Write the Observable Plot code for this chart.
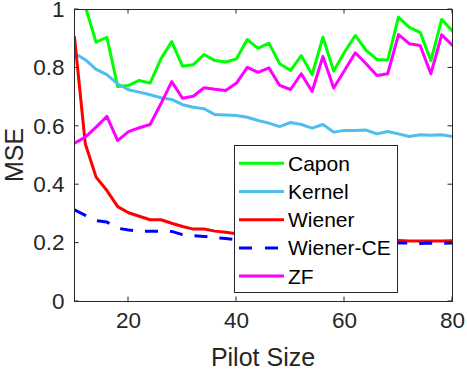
<!DOCTYPE html>
<html><head><meta charset="utf-8">
<script src="https://cdn.jsdelivr.net/npm/d3@7"></script>
<script src="https://cdn.jsdelivr.net/npm/@observablehq/plot@0.6"></script>
<style>body{margin:0;background:#fff} #chart{width:467px;height:371px} #chart svg{overflow:visible}</style>
</head><body><div id="chart"></div>
<script>
const pilotSize = [10,12,14,16,18,20,22,24,26,28,30,32,34,36,38,40,42,44,46,48,50,52,54,56,58,60,62,64,66,68,70,72,74,76,78,80];
const capon    = [1.15,1.01,0.888,0.905,0.736,0.740,0.757,0.748,0.831,0.890,0.806,0.811,0.846,0.825,0.820,0.831,0.897,0.867,0.885,0.814,0.791,0.842,0.777,0.905,0.789,0.854,0.911,0.860,0.829,0.827,0.974,0.939,0.922,0.825,0.966,0.926];
const kernel   = [0.850,0.828,0.795,0.777,0.745,0.725,0.717,0.708,0.698,0.692,0.674,0.665,0.660,0.640,0.639,0.637,0.631,0.620,0.611,0.599,0.613,0.606,0.594,0.606,0.580,0.586,0.586,0.587,0.574,0.582,0.574,0.565,0.571,0.569,0.571,0.565];
const wiener   = [0.905,0.54,0.426,0.380,0.325,0.304,0.292,0.280,0.280,0.268,0.257,0.248,0.248,0.241,0.237,0.232,0.229,0.226,0.224,0.221,0.220,0.218,0.217,0.215,0.215,0.213,0.212,0.211,0.211,0.210,0.209,0.207,0.207,0.207,0.207,0.208];
const wienerCE = [0.314,0.295,0.277,0.272,0.251,0.245,0.241,0.241,0.241,0.240,0.229,0.225,0.223,0.218,0.216,0.211,0.210,0.209,0.208,0.207,0.206,0.205,0.205,0.204,0.203,0.203,0.202,0.202,0.201,0.201,0.200,0.200,0.199,0.200,0.199,0.200];
const zf       = [0.542,0.563,0.597,0.634,0.551,0.582,0.595,0.606,0.677,0.753,0.696,0.703,0.732,0.727,0.723,0.748,0.802,0.785,0.800,0.740,0.726,0.780,0.719,0.839,0.731,0.791,0.852,0.814,0.774,0.780,0.914,0.883,0.877,0.780,0.913,0.877];

const seriesNames  = ["Capon","Kernel","Wiener","Wiener-CE","ZF"];
const seriesValues = [capon, kernel, wiener, wienerCE, zf];
const seriesColors = ["#00ff00","#4dbeee","#ff0000","#0000ff","#ff00ff"];
const seriesDash   = [null, null, null, "13,12", null];

const xTicks = [20,40,60,80];
const xTickLabels = ["20","40","60","80"];
const yTicks = [0,0.2,0.4,0.6,0.8,1];
const yTickLabels = ["0","0.2","0.4","0.6","0.8","1"];
const xLabel = "Pilot Size";
const yLabel = "MSE";

const rows = [];
seriesNames.forEach((name, i) => pilotSize.forEach((x, j) => rows.push({series: name, x, y: seriesValues[i][j]})));

const FONT = "'Liberation Sans', Arial, Helvetica, sans-serif";
const AX = "#262626";

const lineMarks = seriesNames.map((name, i) => Plot.line(rows.filter(r => r.series === name), {
  x: "x", y: "y", stroke: seriesColors[i], strokeWidth: 3, clip: true,
  strokeDasharray: seriesDash[i] || undefined,
  strokeLinecap: seriesDash[i] ? "butt" : "round",
  strokeLinejoin: "round"
}));

const plot = Plot.plot({
  width: 467, height: 371,
  marginLeft: 74, marginRight: 15, marginTop: 9, marginBottom: 70,
  style: {fontFamily: FONT, fontSize: "22.5px", color: AX, background: "white", overflow: "visible"},
  x: {domain: [10, 80], label: null},
  y: {domain: [0, 1], label: null},
  marks: [
    Plot.axisX(xTicks, {anchor: "bottom", tickSize: 0, tickPadding: 11, label: null, tickFormat: d => xTickLabels[xTicks.indexOf(d)]}),
    Plot.axisY(yTicks, {anchor: "left", tickSize: 0, tickPadding: 10, label: null, tickFormat: d => yTickLabels[yTicks.indexOf(d)]}),
    ...lineMarks,
    Plot.frame({stroke: AX, strokeWidth: 1})
  ]
});
document.getElementById("chart").appendChild(plot);

const sx = plot.scale("x"), sy = plot.scale("y");
const svg = d3.select(plot);
const x0 = sx.apply(10), x1 = sx.apply(80), y0 = sy.apply(0), y1 = sy.apply(1);
const T = 4.5;
const g = svg.append("g").attr("stroke", AX).attr("stroke-width", 1);
xTicks.forEach(v => {
  const px = sx.apply(v);
  g.append("line").attr("x1", px).attr("x2", px).attr("y1", y0).attr("y2", y0 - T);
  g.append("line").attr("x1", px).attr("x2", px).attr("y1", y1).attr("y2", y1 + T);
});
yTicks.forEach(v => {
  const py = sy.apply(v);
  g.append("line").attr("x1", x0).attr("x2", x0 + T).attr("y1", py).attr("y2", py);
  g.append("line").attr("x1", x1).attr("x2", x1 - T).attr("y1", py).attr("y2", py);
});

// axis labels
svg.append("text").attr("x", (x0 + x1) / 2).attr("y", 366).attr("text-anchor", "middle")
  .attr("font-family", FONT).attr("font-size", 25).attr("fill", AX).text(xLabel);
svg.append("text").attr("transform", `translate(23,${(y0 + y1) / 2}) rotate(-90)`).attr("text-anchor", "middle")
  .attr("font-family", FONT).attr("font-size", 25).attr("fill", AX).text(yLabel);

// legend
const L = {x: 234.5, y: 145.5, w: 163, h: 147};
const leg = svg.append("g");
leg.append("rect").attr("x", L.x).attr("y", L.y).attr("width", L.w).attr("height", L.h)
  .attr("fill", "white").attr("stroke", AX).attr("stroke-width", 1);
seriesNames.forEach((name, i) => {
  const cy = 163.3 + i * 28.2;
  leg.append("line").attr("x1", 239).attr("x2", 284).attr("y1", cy).attr("y2", cy)
    .attr("stroke", seriesColors[i]).attr("stroke-width", 3)
    .attr("stroke-dasharray", seriesDash[i] ? "13,13" : null);
  leg.append("text").attr("x", 288).attr("y", cy + 7.5).attr("text-anchor", "start")
    .attr("font-family", FONT).attr("font-size", 21).attr("fill", "black").text(name);
});
</script></body></html>
